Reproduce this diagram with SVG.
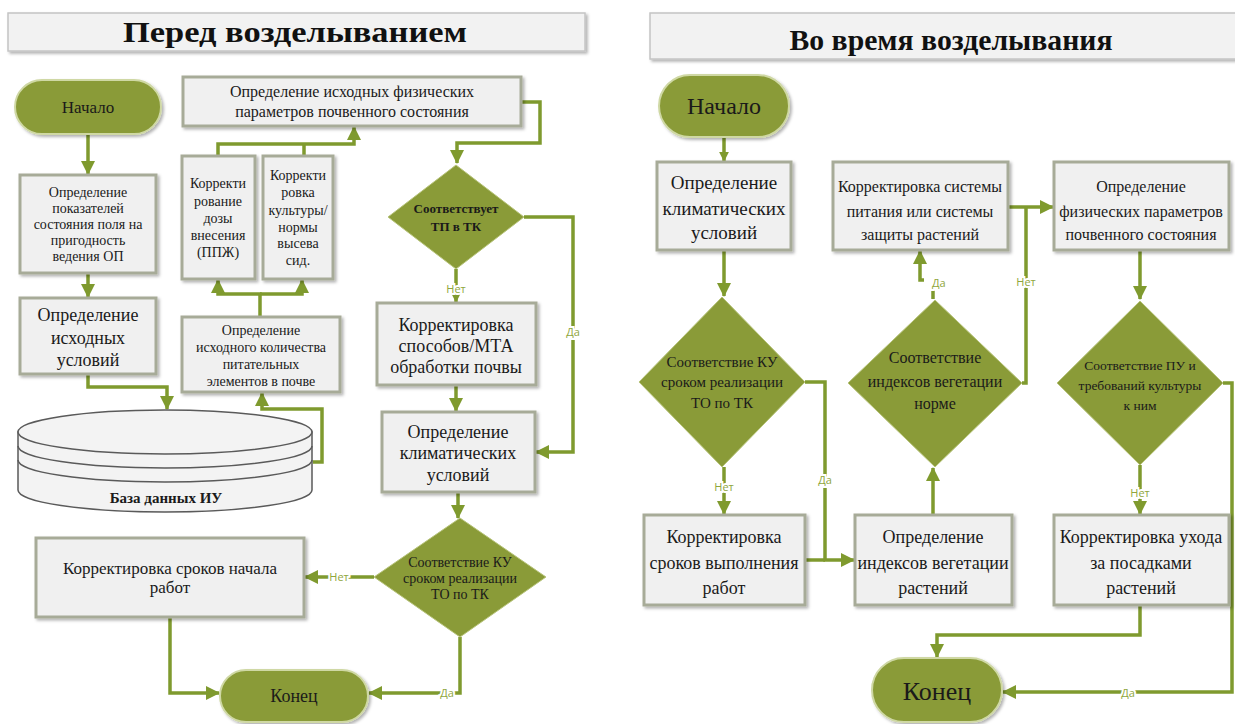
<svg xmlns="http://www.w3.org/2000/svg" width="1235" height="724" viewBox="0 0 1235 724">
<defs>
<filter id="sh" x="-10%" y="-10%" width="130%" height="130%">
<feDropShadow dx="2" dy="2" stdDeviation="1.5" flood-color="#000" flood-opacity="0.3"/>
</filter>
<marker id="ar" viewBox="0 0 14 14" markerUnits="userSpaceOnUse" markerWidth="14" markerHeight="14" refX="13" refY="7" orient="auto">
<path d="M0,0 L14,7 L0,14 z" fill="#7f9a2e"/>
</marker>
<marker id="ars" viewBox="0 0 14 14" markerUnits="userSpaceOnUse" markerWidth="10" markerHeight="10" refX="13" refY="7" orient="auto">
<path d="M0,0 L14,7 L0,14 z" fill="#7f9a2e"/>
</marker>
</defs>
<style>
.title{fill:#f2f2f2;stroke:#c4c4c4;stroke-width:1.5;filter:url(#sh)}
.tt{font-family:"Liberation Serif","DejaVu Serif Condensed","DejaVu Serif",serif;font-weight:bold;font-size:30px;fill:#111;text-anchor:middle}
.box{fill:#f0f0f0;stroke:#a7ab98;stroke-width:3;filter:url(#sh)}
.pill{fill:#8a9b38;stroke:#cfd8a4;stroke-width:2;filter:url(#sh)}
.dia{fill:#8a9b38;stroke:#b8c47c;stroke-width:1}
.t{font-family:"Liberation Serif","DejaVu Serif Condensed","DejaVu Serif",serif;fill:#1a1a1a;text-anchor:middle}
.c{fill:none;stroke:#7f9a2e;stroke-width:3.5}
.lbl{font-family:"Open Sans","Liberation Sans",sans-serif;font-size:11px;fill:#8fa63c;text-anchor:middle;stroke:#fff;stroke-width:4;paint-order:stroke}
.db{fill:#f3f3f3;stroke:#5a5a5a;stroke-width:1.5}
</style>
<rect width="1235" height="724" fill="#fff"/>

<g id="connectors">
<path class="c" d="M88,134 V174" marker-end="url(#ar)"/>
<path class="c" d="M88,273 V297" marker-end="url(#ar)"/>
<path class="c" d="M88,374 V387 H167 V409" marker-end="url(#ar)"/>
<path class="c" d="M313,462 H322 V409 H262 V393" marker-end="url(#ar)"/>
<path class="c" d="M260,317 V294 H218 V280" marker-end="url(#ar)"/>
<path class="c" d="M260,294 H302 V280" marker-end="url(#ar)"/>
<path class="c" d="M218,156 V144 H354 V127" marker-end="url(#ar)"/>
<path class="c" d="M304,156 V144"/>
<path class="c" d="M521,102 H540 V143 H457 V163" marker-end="url(#ar)"/>
<path class="c" d="M456,269 V296 V302" marker-end="url(#ars)"/>
<path class="c" d="M456,385 V411" marker-end="url(#ar)"/>
<path class="c" d="M524,217 H573 V452 H536" marker-end="url(#ar)"/>
<path class="c" d="M458,492 V518" marker-end="url(#ar)"/>
<path class="c" d="M374,577 H305" marker-end="url(#ar)"/>
<path class="c" d="M170,617 V693 H219" marker-end="url(#ar)"/>
<path class="c" d="M460,637 V693 H369" marker-end="url(#ar)"/>

<path class="c" d="M724,137 V161" marker-end="url(#ars)"/>
<path class="c" d="M724,250 V296" marker-end="url(#ar)"/>
<path class="c" d="M724,467 V514" marker-end="url(#ar)"/>
<path class="c" d="M805,382 H825 V560 H854" marker-end="url(#ar)"/>
<path class="c" d="M805,560 H825"/>
<path class="c" d="M933,515 V468" marker-end="url(#ar)"/>
<path class="c" d="M933,299 V290"/>
<path class="c" d="M924,280 H920 V251" marker-end="url(#ar)"/>
<path class="c" d="M1008,207 H1053" marker-end="url(#ar)"/>
<path class="c" d="M1022,383 H1026 V207"/>
<path class="c" d="M1140,250 V299" marker-end="url(#ar)"/>
<path class="c" d="M1140,465 V514" marker-end="url(#ar)"/>
<path class="c" d="M1223,383 H1232 V692 H1003" marker-end="url(#ar)"/>
<path class="c" d="M1140,605 V635 H937 V657" marker-end="url(#ar)"/>

<text class="lbl" x="456" y="293">Нет</text>
<text class="lbl" x="573" y="336">Да</text>
<text class="lbl" x="339" y="581">Нет</text>
<text class="lbl" x="447" y="697">Да</text>
<text class="lbl" x="724" y="491">Нет</text>
<text class="lbl" x="825" y="484">Да</text>
<text class="lbl" x="932" y="287" style="text-anchor:start">Да</text>
<text class="lbl" x="1026" y="286">Нет</text>
<text class="lbl" x="1140" y="497">Нет</text>
<text class="lbl" x="1128" y="697">Да</text>
</g>

<g id="title-left">
<rect class="title" x="8" y="13" width="577" height="38"/>
<text class="tt" x="295" y="42" textLength="344" lengthAdjust="spacingAndGlyphs">Перед возделыванием</text>
</g>
<g id="title-right">
<rect class="title" x="650" y="13" width="600" height="46"/>
<text class="tt" x="951" y="50" textLength="323" lengthAdjust="spacingAndGlyphs">Во время возделывания</text>
</g>

<g id="start-left">
<rect class="pill" x="15" y="80" width="146" height="54" rx="27"/>
<text class="t" x="88" y="113" font-size="17">Начало</text>
</g>
<g id="box-pokazateli">
<rect class="box" x="20" y="175" width="136" height="98"/>
<text class="t" font-size="14"><tspan x="88" y="197">Определение</tspan><tspan x="88" y="213">показателей</tspan><tspan x="88" y="229">состояния поля на</tspan><tspan x="88" y="245">пригодность</tspan><tspan x="88" y="261">ведения ОП</tspan></text>
</g>
<g id="box-ishodnye">
<rect class="box" x="20" y="298" width="136" height="76"/>
<text class="t" font-size="18"><tspan x="88" y="321">Определение</tspan><tspan x="88" y="344">исходных</tspan><tspan x="88" y="366">условий</tspan></text>
</g>
<g id="db">
<path class="db" d="M18,432 V490 A147,22 0 0 0 312,490 V432 Z"/>
<ellipse class="db" cx="165" cy="432" rx="147" ry="22"/>
<path class="db" style="fill:none" d="M18,446 A147,22 0 0 0 312,446"/>
<path class="db" style="fill:none" d="M18,460 A147,22 0 0 0 312,460"/>
<text class="t" x="166" y="503" font-size="15" font-weight="bold">База данных ИУ</text>
</g>
<g id="box-fiz-left">
<rect class="box" x="183" y="77" width="338" height="49"/>
<text class="t" font-size="16"><tspan x="352" y="97">Определение исходных физических</tspan><tspan x="352" y="117">параметров почвенного состояния</tspan></text>
</g>
<g id="box-ppzh">
<rect class="box" x="182" y="156" width="73" height="123"/>
<text class="t" font-size="14"><tspan x="218" y="188">Корректи</tspan><tspan x="218" y="206">рование</tspan><tspan x="218" y="223">дозы</tspan><tspan x="218" y="240">внесения</tspan><tspan x="218" y="257">(ППЖ)</tspan></text>
</g>
<g id="box-kultura">
<rect class="box" x="263" y="156" width="70" height="123"/>
<text class="t" font-size="14"><tspan x="298" y="180">Корректи</tspan><tspan x="298" y="197">ровка</tspan><tspan x="298" y="215">культуры/</tspan><tspan x="298" y="232">нормы</tspan><tspan x="298" y="248">высева</tspan><tspan x="298" y="265">сид.</tspan></text>
</g>
<g id="box-pitat">
<rect class="box" x="182" y="317" width="158" height="75"/>
<text class="t" font-size="14"><tspan x="261" y="335">Определение</tspan><tspan x="261" y="352">исходного количества</tspan><tspan x="261" y="369">питательных</tspan><tspan x="261" y="386">элементов в почве</tspan></text>
</g>
<g id="dia-tp">
<polygon class="dia" points="456,165 524,217 456,269 388,217"/>
<text class="t" font-size="13" font-weight="bold"><tspan x="456" y="213">Соответствует</tspan><tspan x="456" y="231">ТП в ТК</tspan></text>
</g>
<g id="box-mta">
<rect class="box" x="377" y="303" width="159" height="82"/>
<text class="t" font-size="18"><tspan x="456" y="331">Корректировка</tspan><tspan x="456" y="352">способов/МТА</tspan><tspan x="456" y="373">обработки почвы</tspan></text>
</g>
<g id="box-klim-left">
<rect class="box" x="382" y="412" width="153" height="80"/>
<text class="t" font-size="18"><tspan x="458" y="438">Определение</tspan><tspan x="458" y="459">климатических</tspan><tspan x="458" y="481">условий</tspan></text>
</g>
<g id="dia-ku-left">
<polygon class="dia" points="460,518 546,577 460,637 374,577"/>
<text class="t" font-size="14"><tspan x="460" y="567">Соответствие КУ</tspan><tspan x="460" y="583">сроком реализации</tspan><tspan x="460" y="599">ТО по ТК</tspan></text>
</g>
<g id="box-sroki-nach">
<rect class="box" x="36" y="538" width="268" height="79"/>
<text class="t" font-size="17"><tspan x="170" y="574">Корректировка сроков начала</tspan><tspan x="170" y="593">работ</tspan></text>
</g>
<g id="end-left">
<rect class="pill" x="220" y="670" width="148" height="52" rx="26"/>
<text class="t" x="294" y="702" font-size="18">Конец</text>
</g>

<g id="start-right">
<rect class="pill" x="659" y="75" width="130" height="62" rx="31"/>
<text class="t" x="724" y="114" font-size="24">Начало</text>
</g>
<g id="box-klim">
<rect class="box" x="657" y="162" width="134" height="88"/>
<text class="t" font-size="19"><tspan x="724" y="189">Определение</tspan><tspan x="724" y="215">климатических</tspan><tspan x="724" y="239">условий</tspan></text>
</g>
<g id="box-korr-sys">
<rect class="box" x="833" y="162" width="175" height="88"/>
<text class="t" font-size="16"><tspan x="920" y="192">Корректировка системы</tspan><tspan x="920" y="217">питания или системы</tspan><tspan x="920" y="240">защиты растений</tspan></text>
</g>
<g id="box-fiz">
<rect class="box" x="1054" y="162" width="175" height="88"/>
<text class="t" font-size="16"><tspan x="1141" y="192">Определение</tspan><tspan x="1141" y="217">физических параметров</tspan><tspan x="1141" y="240">почвенного состояния</tspan></text>
</g>
<g id="dia-ku">
<polygon class="dia" points="722,297 805,382 722,467 639,382"/>
<text class="t" font-size="15"><tspan x="722" y="367">Соответствие КУ</tspan><tspan x="722" y="387">сроком реализации</tspan><tspan x="722" y="408">ТО по ТК</tspan></text>
</g>
<g id="dia-veg">
<polygon class="dia" points="935,300 1022,383 935,467 848,383"/>
<text class="t" font-size="16"><tspan x="935" y="363">Соответствие</tspan><tspan x="935" y="387">индексов вегетации</tspan><tspan x="935" y="409">норме</tspan></text>
</g>
<g id="dia-pu">
<polygon class="dia" points="1140,301 1223,383 1140,465 1057,383"/>
<text class="t" font-size="13.5"><tspan x="1140" y="370">Соответствие ПУ и</tspan><tspan x="1140" y="390">требований культуры</tspan><tspan x="1140" y="410">к ним</tspan></text>
</g>
<g id="box-sroki-vyp">
<rect class="box" x="644" y="515" width="161" height="90"/>
<text class="t" font-size="18"><tspan x="724" y="543">Корректировка</tspan><tspan x="724" y="569">сроков выполнения</tspan><tspan x="724" y="594">работ</tspan></text>
</g>
<g id="box-veg">
<rect class="box" x="855" y="515" width="157" height="90"/>
<text class="t" font-size="18"><tspan x="933" y="543">Определение</tspan><tspan x="933" y="569">индексов вегетации</tspan><tspan x="933" y="594">растений</tspan></text>
</g>
<g id="box-uhod">
<rect class="box" x="1054" y="515" width="175" height="90"/>
<text class="t" font-size="18"><tspan x="1141" y="543">Корректировка ухода</tspan><tspan x="1141" y="569">за посадками</tspan><tspan x="1141" y="594">растений</tspan></text>
</g>
<g id="end-right">
<rect class="pill" x="872" y="658" width="130" height="64" rx="32"/>
<text class="t" x="937" y="700" font-size="26">Конец</text>
</g>
</svg>
